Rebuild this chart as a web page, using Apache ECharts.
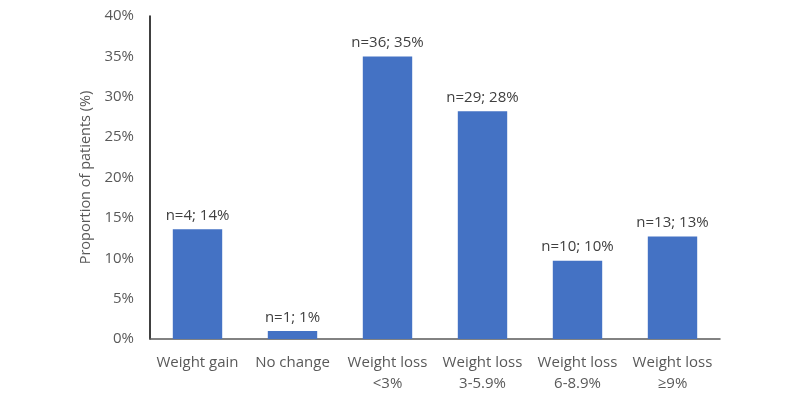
<!DOCTYPE html>
<html><head><meta charset="utf-8">
<script src="https://cdn.jsdelivr.net/npm/echarts@6/dist/echarts.min.js"></script>
<style>html,body{margin:0;padding:0;background:#fff}#c{width:800px;height:400px}</style>
</head><body><div id="c"></div>
<script>
const categories = ['Weight gain', 'No change', 'Weight loss\n<3%', 'Weight loss\n3-5.9%', 'Weight loss\n6-8.9%', 'Weight loss\n≥9%'];
const values = [13.6, 1.0, 35.0, 28.2, 9.7, 12.7];
const counts = [4, 1, 36, 29, 10, 13];
const labelPct = [14, 1, 35, 28, 10, 13];
const yTicks = [0, 5, 10, 15, 20, 25, 30, 35, 40];

const font = '"Open Sans", "Liberation Sans", sans-serif';
const chart = echarts.init(document.getElementById('c'), null, {renderer: 'canvas'});
chart.setOption({
  animation: false,
  grid: {left: 150, right: 80, top: 16, bottom: 61},
  xAxis: {
    type: 'category', data: categories,
    axisLine: {lineStyle: {color: '#595959', width: 1.5}},
    axisTick: {show: false},
    axisLabel: {color: '#595959', fontSize: 15, fontFamily: font, margin: 13, lineHeight: 21, interval: 0}
  },
  yAxis: {
    type: 'value', min: yTicks[0], max: yTicks[yTicks.length - 1], interval: 5,
    name: 'Proportion of patients (%)', nameLocation: 'middle', nameGap: 48,
    nameTextStyle: {color: '#595959', fontSize: 14.5, fontFamily: font},
    axisLine: {show: true, lineStyle: {color: '#000', width: 1.5}},
    axisTick: {show: false},
    splitLine: {show: false},
    axisLabel: {color: '#595959', fontSize: 15, fontFamily: font, margin: 16, formatter: v => v + '%'}
  },
  series: [{
    type: 'bar', data: values, barWidth: '52%',
    itemStyle: {color: '#4472C4'},
    label: {
      show: true, position: 'top', distance: 6, color: '#404040', fontSize: 15, fontFamily: font,
      formatter: p => 'n=' + counts[p.dataIndex] + '; ' + labelPct[p.dataIndex] + '%'
    }
  }]
});
</script></body></html>
